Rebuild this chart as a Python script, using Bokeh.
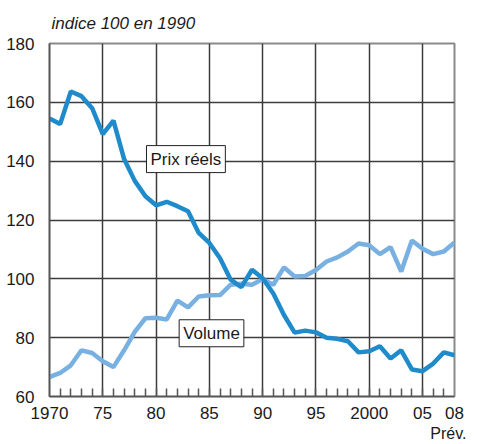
from bokeh.plotting import figure
from bokeh.models import FixedTicker, Range1d, Label, LinearAxis
from bokeh.embed import file_html
from bokeh.resources import INLINE

years = list(range(1970, 2009))
prix = [154.5, 152.6, 163.7, 162.1, 158.0, 149.2, 153.8, 140.7, 133.3, 128.1,
        125.0, 126.2, 124.7, 123.0, 115.6, 112.2, 107.0, 99.7, 97.2, 103.1,
        100.2, 95.0, 87.7, 81.7, 82.4, 81.8, 80.0, 79.6, 78.8, 75.0,
        75.4, 77.1, 72.9, 75.7, 69.2, 68.6, 71.2, 75.0, 74.0]
volume = [66.6, 68.0, 70.6, 75.7, 74.8, 72.0, 70.0, 75.7, 82.0, 86.6,
          86.8, 86.2, 92.6, 90.3, 94.0, 94.4, 94.5, 98.0, 98.3, 98.0,
          99.9, 98.0, 103.9, 100.8, 101.0, 103.0, 105.9, 107.3, 109.3, 112.0,
          111.4, 108.4, 110.8, 102.5, 113.0, 110.2, 108.4, 109.3, 112.4]
x_ticks = [1970, 1975, 1980, 1985, 1990, 1995, 2000, 2005, 2008]
x_tick_labels = ["1970", "75", "80", "85", "90", "95", "2000", "05", "08"]
y_ticks = [60, 80, 100, 120, 140, 160, 180]

FONT = "Liberation Sans"

p = figure(width=469, height=444, output_backend="svg", toolbar_location=None,
           x_range=Range1d(1970, 2008), y_range=Range1d(60, 180),
           min_border_left=49, min_border_right=15, min_border_top=18,
           min_border_bottom=0)
p.background_fill_color = "white"
p.border_fill_color = "white"
p.outline_line_color = "#8a8a8a"
p.outline_line_width = 2

p.title.text = "indice 100 en 1990"
p.title.text_font = FONT
p.title.text_font_size = "17px"
p.title.text_font_style = "italic"
p.title.text_color = "#1a1a1a"
p.title.align = "left"
p.title.offset = 2
p.title.standoff = 22

# axes
p.xaxis.ticker = FixedTicker(ticks=x_ticks, minor_ticks=list(range(1971, 2008)))
p.xaxis.major_label_overrides = {t: l for t, l in zip(x_ticks, x_tick_labels)}
p.yaxis.ticker = FixedTicker(ticks=y_ticks)
for ax in (p.xaxis, p.yaxis):
    ax.major_label_text_font = FONT
    ax.major_label_text_font_size = "17px"
    ax.major_label_text_color = "#1a1a1a"
    ax.major_tick_line_color = None
    ax.axis_line_color = "#555555"
    ax.axis_line_width = 1.5
p.xaxis.minor_tick_in = 8
p.xaxis.minor_tick_out = 0
p.xaxis.minor_tick_line_color = "#555555"
p.xaxis.minor_tick_line_width = 1.5
p.xaxis.major_label_standoff = 4
p.yaxis.minor_tick_line_color = None
p.yaxis.major_label_standoff = 9

prev_axis = LinearAxis(ticker=FixedTicker(ticks=[2008]),
                       major_label_overrides={2008: "Prév."},
                       axis_line_color=None, major_tick_line_color=None,
                       minor_tick_line_color=None, major_label_standoff=-3,
                       major_label_text_font=FONT, major_label_text_font_size="16px",
                       major_label_text_color="#1a1a1a")
p.add_layout(prev_axis, "below")

p.grid.grid_line_color = "#3c3c3c"
p.grid.grid_line_width = 1.5
p.grid.grid_line_alpha = 1

p.line(years, volume, line_color="#78b1e1", line_width=4.5)
p.line(years, prix, line_color="#1f8bcb", line_width=4.5)

p.add_layout(Label(x=1982.8, y=140.7, text="Prix réels", text_align="center",
                   text_baseline="middle", text_font=FONT, text_font_size="17px",
                   text_color="#1a1a1a", background_fill_color="white",
                   border_line_color="#222222", border_line_width=1, padding=4))
p.add_layout(Label(x=1985.2, y=81.5, text="Volume", text_align="center",
                   text_baseline="middle", text_font=FONT, text_font_size="17px",
                   text_color="#1a1a1a", background_fill_color="white",
                   border_line_color="#222222", border_line_width=1, padding=4))

open("out.html", "w").write(file_html(p, INLINE))
